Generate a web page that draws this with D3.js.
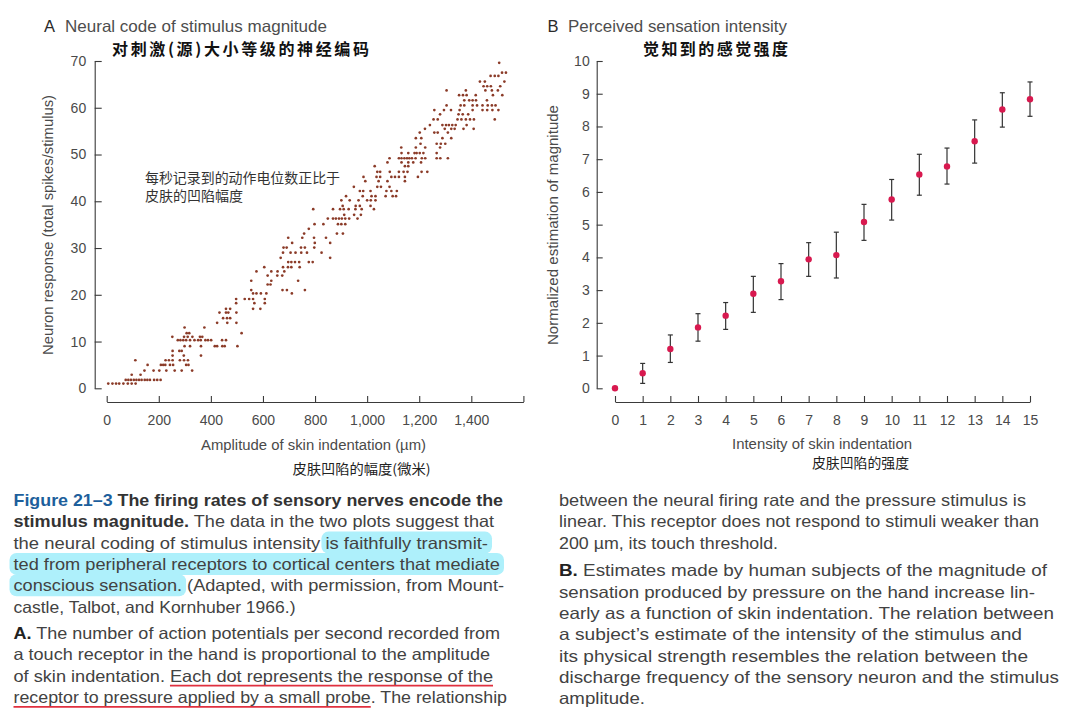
<!DOCTYPE html>
<html><head><meta charset="utf-8">
<script src="https://cdn.jsdelivr.net/npm/d3@7"></script>
<style>
body{margin:0;background:#fff;}
svg{display:block;font-family:"Liberation Sans",Arial,sans-serif;}
</style></head><body>
<svg id="c" width="1080" height="722"></svg>
<script>
// ---------- Data: panel A (spikes per stimulus rows, amplitudes in µm) ----------
const spikeRows = [1.0,1.8,2.9,3.8,5.0,6.0,7.0,8.0,9.0,10.3,11.0,11.8,13.0,14.0,15.0,16.2,17.0,18.2,19.1,20.3,21.0,22.2,23.0,24.1,25.0,25.9,27.0,27.9,29.0,30.1,31.1,32.2,33.1,34.1,35.1,36.3,37.1,38.3,39.0,40.2,41.1,42.2,43.1,44.3,45.2,46.3,47.5,48.3,49.2,50.3,51.5,52.3,53.5,54.7,55.5,56.3,57.5,58.6,59.5,60.5,61.6,62.7,63.7,64.6,65.6,66.8,67.5,69.6];
const amplitudeRows = [
 [6,22,36,48,64,81,96,111],
 [73,83,93,104,114,124,134,146,156,166,182,194,207],
 [96,130],
 [145,180,202,229,261,288,328],
 [157,208,217,225,243,255,305,314],
 [110,226,239,253,281,297,312],
 [253,296,362],
 [253,279,288],
 [299,320,362,415,424,444,453,502],
 [273,283,294,305,320,337,351,361,379,389,401,443,458],
 [252,297,311,329,358,367],
 [307,317,518],
 [299,375],
 [424,463,498],
 [447,462,474],
 [433,458,467,498],
 [458,474,562,590],
 [497,567,607],
 [497,530,547,562,607],
 [562,575,592,613,711],
 [555,675,692,761],
 [618,629],
 [555,632,735],
 [618,655,674],
 [575,632,656,682],
 [605,677,696,709,741],
 [697,709,723,739,776,791],
 [668,858],
 [677,706,725,747,769,825],
 [679,691,746,761,797],
 [712,799,858],
 [697,751,796,842],
 [758,884,907],
 [776],
 [798,832,888,901,916],
 [849,869,880,892,903,916,931,963],
 [912,950,976],
 [793,869,896,910,929,955,979,1026],
 [906,956,972,1013],
 [901,933,967,1000,1014,1032],
 [919,983,1017,1032,1071,1098,1111],
 [972,985,1013,1074,1093,1114],
 [949,1039,1053,1086],
 [993,1044,1078,1145],
 [986,1036,1050,1093,1107,1122,1145,1195],
 [1039,1050,1087,1122,1140,1155,1209,1231],
 [1029,1145,1158],
 [1078,1132,1158,1177,1207],
 [1086,1122,1132,1143,1153,1162,1172,1186,1210,1223,1267,1281,1310],
 [1132,1158,1182,1190,1202,1216,1267],
 [1131,1187,1223,1280],
 [1205,1267,1283,1300],
 [1187,1208,1289,1323],
 [1202,1258,1271,1310],
 [1222,1298,1323,1336,1370,1409],
 [1241,1289,1303,1314,1327,1340,1382],
 [1255,1271,1347,1362,1379,1395,1410,1490],
 [1280,1351,1367,1388],
 [1258,1295,1322,1355,1405,1443,1461,1481,1504],
 [1305,1359,1373,1405,1422,1443,1463,1479,1493],
 [1373,1392,1405,1418,1460],
 [1353,1368,1382,1417,1483,1519],
 [1305,1379,1454,1479,1502],
 [1447,1461,1475,1511],
 [1433,1452,1527],
 [1474,1490,1504],
 [1518,1533],
 [1507]
];
const xTicksA = [0,200,400,600,800,1000,1200,1400,1600];
const yTicksA = [0,10,20,30,40,50,60,70];

// ---------- Data: panel B ----------
const intensity = [0,1,2,3,4,5,6,7,8,9,10,11,12,13,14,15];
const estimate  = [0,0.46,1.20,1.86,2.22,2.89,3.27,3.94,4.07,5.08,5.77,6.53,6.78,7.55,8.52,8.83];
const estUpper  = [0,0.76,1.63,2.28,2.62,3.42,3.81,4.45,4.77,5.62,6.38,7.15,7.34,8.20,9.03,9.36];
const estLower  = [0,0.15,0.79,1.44,1.80,2.32,2.71,3.42,3.37,4.52,5.14,5.90,6.24,6.88,7.98,8.31];
const xTicksB = [0,1,2,3,4,5,6,7,8,9,10,11,12,13,14,15];
const yTicksB = [0,1,2,3,4,5,6,7,8,9,10];

const svg = d3.select("#c");
const AX = "#3a3a3a", LBL = "#4a4a4a";
const CJK = "'Noto Sans CJK SC','Noto Sans CJK JP',sans-serif";

// ---------- Panel A ----------
const xA = d3.scaleLinear().domain([0,1600]).range([106.7,523.4]);
const yA = d3.scaleLinear().domain([0,70]).range([388.3,61]);

function styleAxis(g){
  g.attr("font-family",null).attr("font-size",null);
  g.select(".domain").attr("stroke",AX).attr("stroke-width",1.1);
  g.selectAll(".tick line").attr("stroke",AX).attr("stroke-width",1.1);
  g.selectAll(".tick text").attr("fill",LBL).style("font-size","14px").style("font-family","'Liberation Sans',Arial,sans-serif");
}

svg.append("g").attr("transform","translate(94.7,0)")
  .call(d3.axisLeft(yA).tickValues(yTicksA).tickSizeInner(-7).tickSizeOuter(0).tickPadding(8.5))
  .call(styleAxis);
svg.append("g").attr("transform","translate(0,402)")
  .call(d3.axisBottom(xA).tickValues(xTicksA).tickFormat(d => d===1600 ? "" : d3.format(",")(d))
        .tickSizeInner(-6).tickSizeOuter(0).tickPadding(13))
  .call(styleAxis);

const ptsA = [];
spikeRows.forEach((s,i)=>amplitudeRows[i].forEach(a=>ptsA.push({a,s})));
svg.append("g").selectAll("circle").data(ptsA).join("circle")
  .attr("cx",d=>xA(d.a)).attr("cy",d=>yA(d.s)).attr("r",1.35).attr("fill","#8b3b28");

// titles A
svg.append("text").attr("x",44).attr("y",31.5).attr("fill","#2a2a2a").style("font-size","16.5px").text("A");
svg.append("text").attr("x",65).attr("y",31.5).attr("fill","#4d4d4d").style("font-size","16.5px")
  .attr("textLength",262).attr("lengthAdjust","spacingAndGlyphs").text("Neural code of stimulus magnitude");
svg.append("text").attr("x",112).attr("y",54.5).attr("fill","#111").style("font-family",CJK).style("font-weight","700").style("font-size","16px")
  .attr("textLength",257).attr("lengthAdjust","spacing").text("对刺激(源)大小等级的神经编码");
svg.append("text").attr("x",145).attr("y",183).attr("fill","#333").style("font-family",CJK).style("font-size","14px")
  .attr("textLength",195).attr("lengthAdjust","spacingAndGlyphs").text("每秒记录到的动作电位数正比于");
svg.append("text").attr("x",145).attr("y",201).attr("fill","#333").style("font-family",CJK).style("font-size","14px")
  .text("皮肤的凹陷幅度");
svg.append("text").attr("transform","translate(53,225) rotate(-90)").attr("text-anchor","middle")
  .attr("fill",LBL).style("font-size","14px").attr("textLength",260).attr("lengthAdjust","spacingAndGlyphs")
  .text("Neuron response (total spikes/stimulus)");
svg.append("text").attr("x",313.5).attr("y",450).attr("text-anchor","middle").attr("fill",LBL).style("font-size","14px")
  .attr("textLength",225).attr("lengthAdjust","spacingAndGlyphs").text("Amplitude of skin indentation (µm)");
svg.append("text").attr("x",292.5).attr("y",474).attr("fill","#222").style("font-family",CJK).style("font-size","13.5px")
  .attr("textLength",138).attr("lengthAdjust","spacingAndGlyphs").text("皮肤凹陷的幅度(微米)");

// ---------- Panel B ----------
const xB = d3.scaleLinear().domain([0,15]).range([615,1030]);
const yB = d3.scaleLinear().domain([0,10]).range([388.3,61]);
svg.append("g").attr("transform","translate(596.7,0)")
  .call(d3.axisLeft(yB).tickValues(yTicksB).tickSizeInner(-6).tickSizeOuter(0).tickPadding(7))
  .call(styleAxis);
svg.append("g").attr("transform","translate(0,402)")
  .call(d3.axisBottom(xB).tickValues(xTicksB).tickSizeInner(-6).tickSizeOuter(0).tickPadding(13))
  .call(styleAxis);

const ptsB = intensity.map((x,i)=>({x,y:estimate[i],lo:estLower[i],hi:estUpper[i]}));
const eb = svg.append("g").attr("stroke","#333").attr("stroke-width",1.2);
eb.selectAll("line.v").data(ptsB).join("line").attr("class","v")
  .attr("x1",d=>xB(d.x)).attr("x2",d=>xB(d.x)).attr("y1",d=>yB(d.lo)).attr("y2",d=>yB(d.hi));
eb.selectAll("line.t").data(ptsB).join("line").attr("class","t")
  .attr("x1",d=>xB(d.x)-2.5).attr("x2",d=>xB(d.x)+2.5).attr("y1",d=>yB(d.hi)).attr("y2",d=>yB(d.hi));
eb.selectAll("line.b").data(ptsB).join("line").attr("class","b")
  .attr("x1",d=>xB(d.x)-2.5).attr("x2",d=>xB(d.x)+2.5).attr("y1",d=>yB(d.lo)).attr("y2",d=>yB(d.lo));
svg.append("g").selectAll("circle").data(ptsB).join("circle")
  .attr("cx",d=>xB(d.x)).attr("cy",d=>yB(d.y)).attr("r",3.2).attr("fill","#d8194f");

svg.append("text").attr("x",547.6).attr("y",31.5).attr("fill","#2a2a2a").style("font-size","16.5px").text("B");
svg.append("text").attr("x",568).attr("y",31.5).attr("fill","#4d4d4d").style("font-size","16.5px")
  .attr("textLength",219).attr("lengthAdjust","spacingAndGlyphs").text("Perceived sensation intensity");
svg.append("text").attr("x",643).attr("y",54.5).attr("fill","#111").style("font-family",CJK).style("font-weight","700").style("font-size","16px")
  .attr("textLength",145).attr("lengthAdjust","spacing").text("觉知到的感觉强度");
svg.append("text").attr("transform","translate(558,225) rotate(-90)").attr("text-anchor","middle")
  .attr("fill",LBL).style("font-size","14px").attr("textLength",240).attr("lengthAdjust","spacingAndGlyphs")
  .text("Normalized estimation of magnitude");
svg.append("text").attr("x",822).attr("y",448.5).attr("text-anchor","middle").attr("fill",LBL).style("font-size","14px")
  .attr("textLength",180).attr("lengthAdjust","spacingAndGlyphs").text("Intensity of skin indentation");
svg.append("text").attr("x",812).attr("y",468).attr("fill","#222").style("font-family",CJK).style("font-size","13.5px")
  .attr("textLength",97).attr("lengthAdjust","spacingAndGlyphs").text("皮肤凹陷的强度");

// ---------- Caption text ----------
const BLUE="#1d5f9c", TXT="#424242", DARK="#222";
const hlLayer = svg.insert("g",":first-child");
function line(x, cy, end, segs){
  const t = svg.append("text").attr("x",x).attr("y",cy+6).style("font-size","16.5px")
    .attr("textLength",end-x).attr("lengthAdjust","spacingAndGlyphs");
  segs.forEach(s=>{
    const ts = t.append("tspan").text(s[0]).attr("fill",s[2]||TXT);
    if(s[1]) ts.style("font-weight","700");
  });
  return t;
}
const L = [500,521.3,542.6,563.9,585.2,606.5,633,654.3,675.6,696.9];
const lx = 13.5;
line(lx,L[0],503,[["Figure 21–3",1,BLUE],[" The firing rates of sensory nerves encode the",1,"#333"]]);
line(lx,L[1],494,[["stimulus magnitude.",1,"#333"],[" The data in the two plots suggest that"]]);
const l3 = line(lx,L[2],488,[["the neural coding of stimulus intensity is faithfully transmit-"]]);
const l4 = line(lx,L[3],500,[["ted from peripheral receptors to cortical centers that mediate"]]);
const l5 = line(lx,L[4],504,[["conscious sensation. (Adapted, with permission, from Mount-"]]);
line(lx,L[5],295.5,[["castle, Talbot, and Kornhuber 1966.)"]]);
line(lx,L[6],500,[["A.",1,DARK],[" The number of action potentials per second recorded from"]]);
line(lx,L[7],490,[["a touch receptor in the hand is proportional to the amplitude"]]);
const l9 = line(lx,L[8],493,[["of skin indentation. Each dot represents the response of the"]]);
const l10 = line(lx,L[9],507,[["receptor to pressure applied by a small probe. The relationship"]]);

const R = [500,521.3,542.6,570.4,591.7,613,634.3,655.6,676.9,698.2];
const rx = 559;
line(rx,R[0],1026,[["between the neural firing rate and the pressure stimulus is"]]);
line(rx,R[1],1039,[["linear. This receptor does not respond to stimuli weaker than"]]);
line(rx,R[2],778,[["200 µm, its touch threshold."]]);
line(rx,R[3],1047,[["B.",1,DARK],[" Estimates made by human subjects of the magnitude of"]]);
line(rx,R[4],1035,[["sensation produced by pressure on the hand increase lin-"]]);
line(rx,R[5],1054,[["early as a function of skin indentation. The relation between"]]);
line(rx,R[6],1022,[["a subject’s estimate of the intensity of the stimulus and"]]);
line(rx,R[7],1028,[["its physical strength resembles the relation between the"]]);
line(rx,R[8],1059,[["discharge frequency of the sensory neuron and the stimulus"]]);
line(rx,R[9],645,[["amplitude."]]);

// highlights and underline, positioned from the rendered glyphs
function span(t, a, b){
  const n = t.node();
  return [n.getStartPositionOfChar(a).x, n.getEndPositionOfChar(b).x];
}
const s3 = l3.text(), s5 = l5.text(), s9 = l9.text(), s10 = l10.text();
const h3 = span(l3, s3.indexOf("is faithfully"), s3.length-1);
const h4 = span(l4, 0, l4.text().length-1);
const h5 = span(l5, 0, s5.indexOf("sensation.")+9);
[[h3,L[2]],[h4,L[3]],[h5,L[4]]].forEach(([h,cy])=>{
  hlLayer.append("rect").attr("x",h[0]-4).attr("y",cy-11).attr("width",h[1]-h[0]+8).attr("height",22)
    .attr("rx",7).attr("fill","#aef0fb");
});
const u9 = span(l9, s9.indexOf("Each"), s9.length-1);
const u10 = span(l10, 0, s10.indexOf("probe")+4);
[[u9,L[8]],[u10,L[9]]].forEach(([u,cy])=>{
  svg.append("line").attr("x1",u[0]).attr("x2",u[1]).attr("y1",cy+10).attr("y2",cy+10)
    .attr("stroke","#e0303f").attr("stroke-width",1.6);
});
</script>
</body></html>
